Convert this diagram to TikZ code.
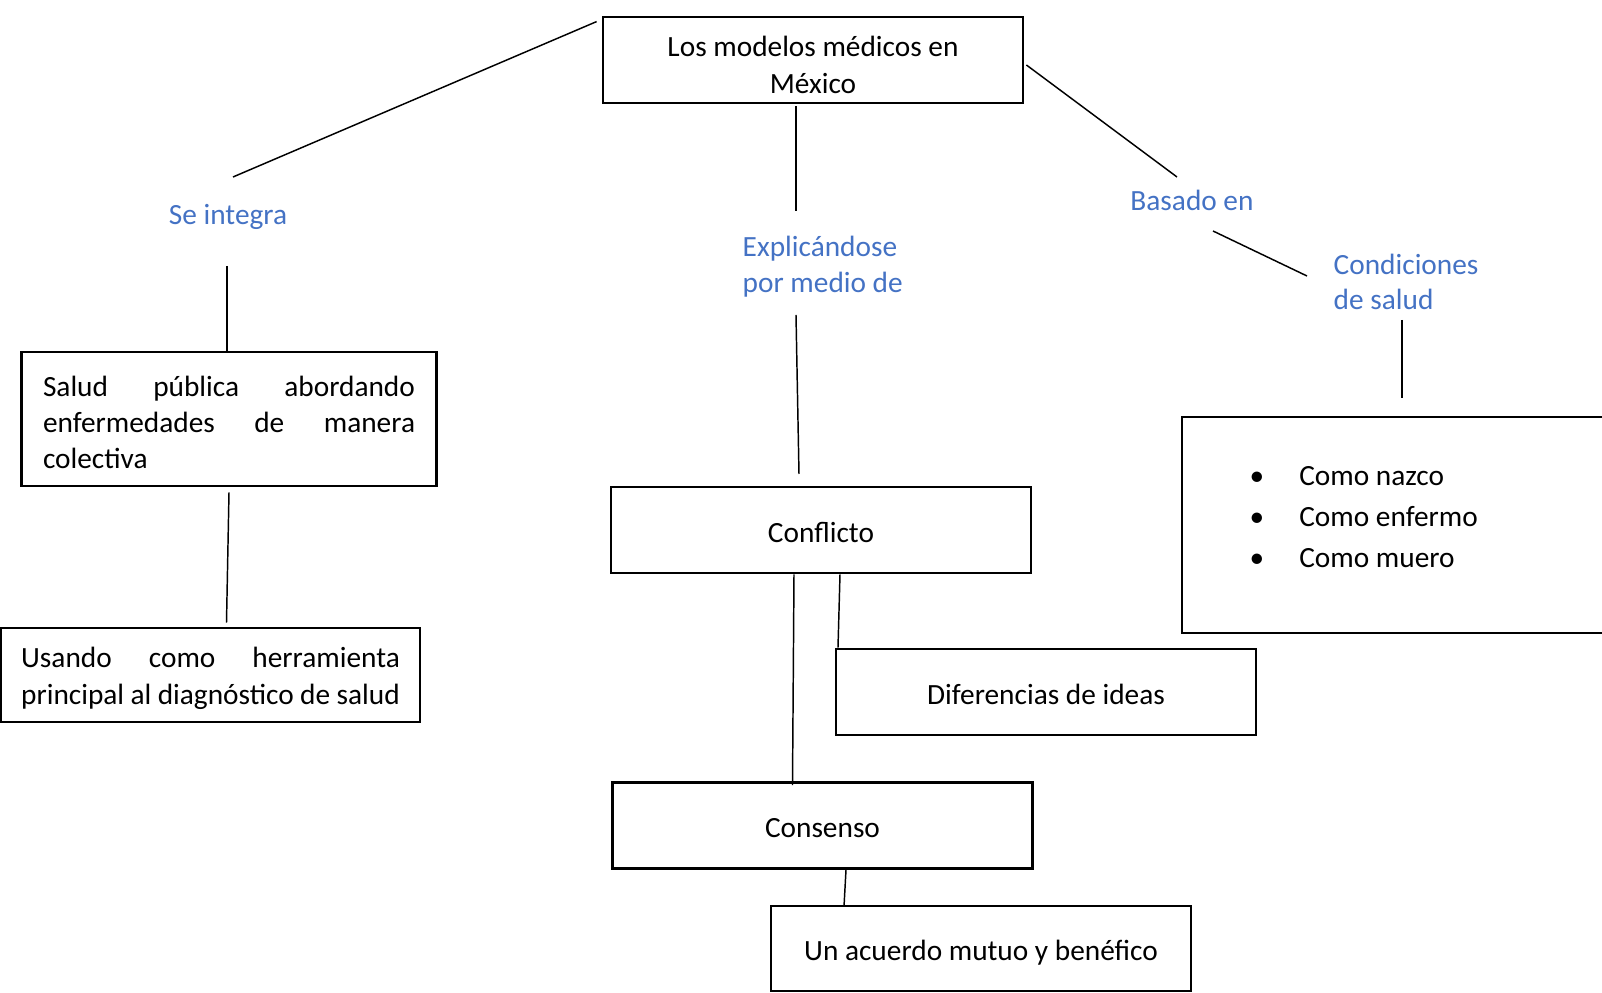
\documentclass[tikz,border=0pt]{standalone}
\usepackage{fontspec}
\setmainfont{Carlito}
\hyphenpenalty=10000
\tolerance=10000
\definecolor{linkblue}{RGB}{68,114,196}

\begin{document}
\begin{tikzpicture}[x=0.375pt,y=-0.375pt,line width=0.55pt,
  concept box/.style={draw,line width=1.05pt,inner sep=0pt,minimum width=157.5pt,
    minimum height=32.25pt,align=center,text height=9.3pt,text depth=0pt,
    font=\fontsize{11}{13.8}\selectfont},
  multi line/.style={text height=10.1pt,text depth=,font=\fontsize{11}{13.6}\selectfont},
  link label/.style={inner sep=0pt,text=linkblue,font=\fontsize{11}{13.4}\selectfont}]

  \useasboundingbox (0,0) rectangle (1602,993);

  % boxes
  \node[concept box,text height=24.9pt] (modelos) at (813,60) {Los modelos médicos en\\México};
  \node[concept box,multi line,minimum width=155.6pt,minimum height=50.25pt,text width=139.5pt,
    align=justify] (salud) at (229,419) {Salud pública abordando enfermedades de manera colectiva};
  \node[concept box,multi line,minimum width=157.1pt,minimum height=35.25pt,text width=142pt,
    align=justify] (usando) at (210.5,675) {Usando como herramienta principal al diagnóstico de salud};
  \node[concept box] (conflicto) at (821,530) {Conflicto};
  \node[concept box] (diferencias) at (1046,692) {Diferencias de ideas};
  \node[concept box] (consenso) at (822.5,825.5) {Consenso};
  \node[concept box,minimum height=31.9pt] (acuerdo) at (981,948.5) {Un acuerdo mutuo y benéfico};
  \node[concept box,minimum width=162.4pt,minimum height=81pt] (lista) at (1398.5,525) {};
  \node[inner sep=0pt,align=left,anchor=west,font=\fontsize{11}{15.3}\selectfont] (items) at (1249,517)
    {\makebox[18.6pt][l]{\textbullet}Como nazco\\
     \makebox[18.6pt][l]{\textbullet}Como enfermo\\
     \makebox[18.6pt][l]{\textbullet}Como muero};

  % labels
  \node[link label] (integra) at (228,217) {Se integra};
  \node[link label,align=left,anchor=west] (explica) at (742,267) {Explicándose\\por medio de};
  \node[link label] (basado) at (1192,200) {Basado en};
  \node[link label,align=left,anchor=west] (condiciones) at (1333,282) {Condiciones\\de salud};

  % free ends
  \coordinate (integra in) at (233,177);
  \coordinate (integra out) at (227,266);
  \coordinate (explica in) at (796,211);
  \coordinate (explica out) at (796,315);
  \coordinate (conflicto in) at (799,474);
  \coordinate (basado in) at (1177,177);
  \coordinate (basado out) at (1213,231);
  \coordinate (condiciones in) at (1307,276);
  \coordinate (condiciones out) at (1402,320);
  \coordinate (lista in) at (1402,398);

  % connectors
  \draw ([shift={(-5,6)}]modelos.north west) -- (integra in);
  \draw (integra out) -- ([shift={(-2,0)}]salud.north);
  \draw ([shift={(0,5)}]salud.south) -- ([shift={(16,-4)}]usando.north);
  \draw ([shift={(-17,2)}]modelos.south) -- (explica in);
  \draw (explica out) -- (conflicto in);
  \draw ([shift={(-27,0)}]conflicto.south) -- ([shift={(-30,4)}]consenso.north);
  \draw ([shift={(19,0)}]conflicto.south) -- ([shift={(-208,0)}]diferencias.north);
  \draw ([shift={(23.5,0)}]consenso.south) -- ([shift={(-137,2)}]acuerdo.north);
  \draw ([shift={(2,5)}]modelos.east) -- (basado in);
  \draw (basado out) -- (condiciones in);
  \draw (condiciones out) -- (lista in);

\end{tikzpicture}
\end{document}
